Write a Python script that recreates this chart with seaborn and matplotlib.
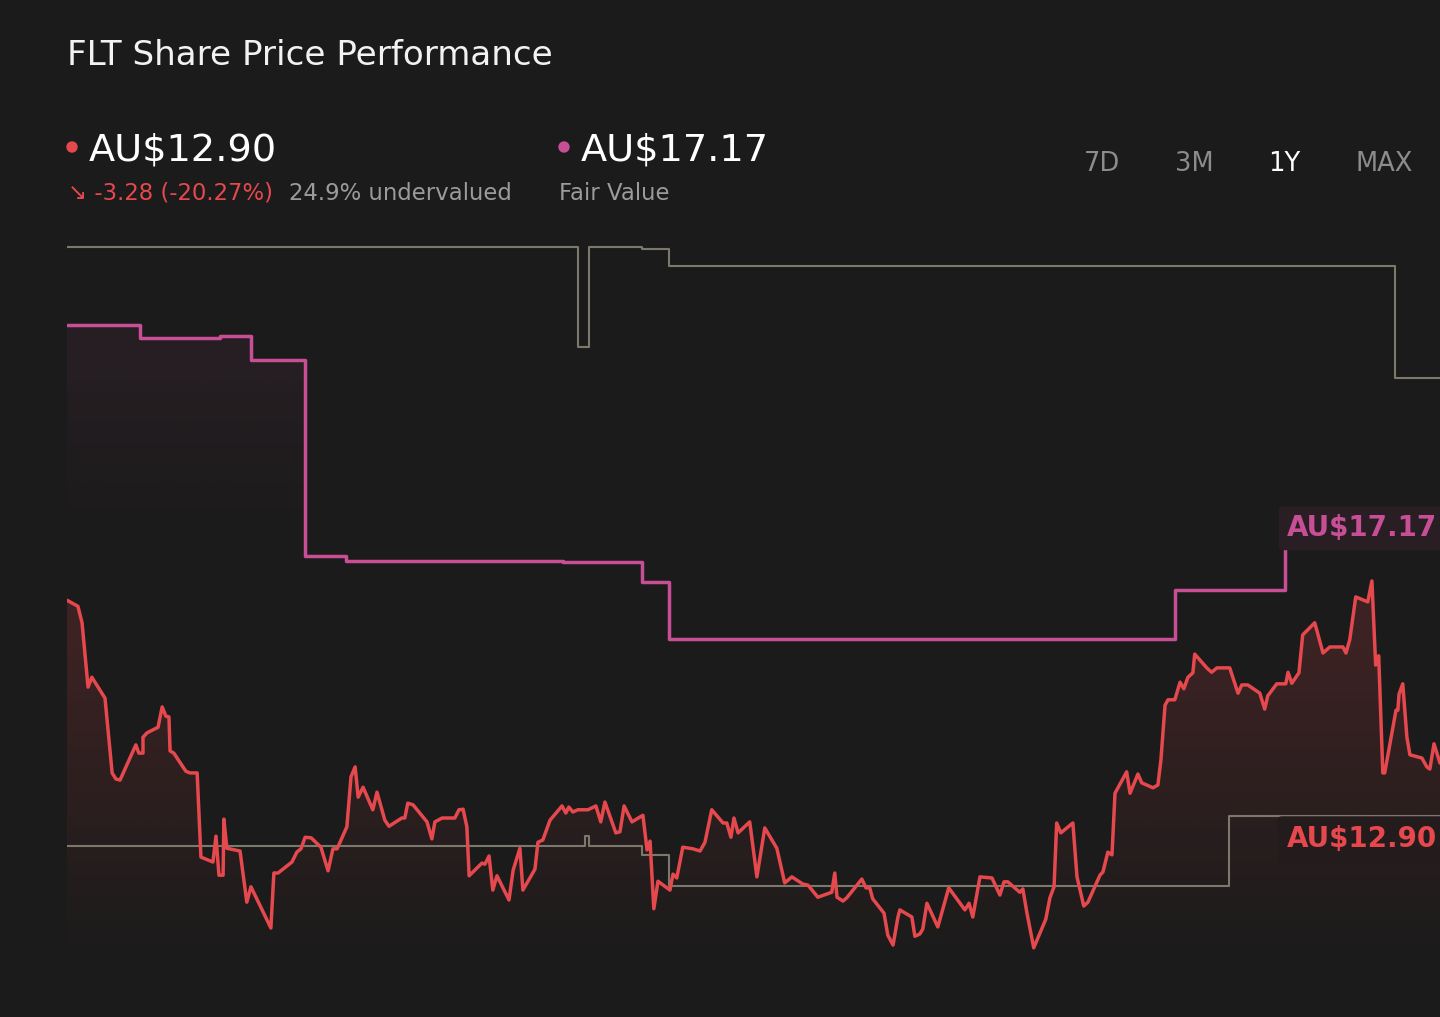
import numpy as np
import pandas as pd
import matplotlib
matplotlib.use("Agg")
import matplotlib.pyplot as plt
import seaborn as sns
from matplotlib.colors import LinearSegmentedColormap, to_rgba
from matplotlib.patches import Ellipse

# ---------------- data (days since start of 1Y window, AU$) ----------------
price_day = [0.0, 2.9, 4.0, 5.6, 6.6, 10.1, 12.0, 13.0, 14.1, 18.3, 19.1, 20.2, 20.2, 21.3, 24.2,
             25.3, 26.3, 27.1, 27.4, 28.4, 31.6, 32.7, 34.6, 35.6, 38.8, 39.6, 40.4, 41.5, 41.7,
             42.5, 46.0, 47.8, 48.9, 54.2, 55.0, 56.1, 59.8, 61.1, 62.2, 63.3, 64.9, 67.5, 69.4,
             70.7, 71.8, 74.4, 75.5, 76.6, 77.4, 78.7, 81.3, 82.4, 84.5, 85.6, 89.0, 89.8, 90.6,
             92.0, 95.7, 97.0, 97.8, 99.7, 103.1, 104.2, 105.3, 106.3, 106.9, 110.3, 111.1, 112.2,
             113.2, 114.3, 117.5, 118.6, 120.4, 121.2, 124.4, 125.2, 126.5, 128.4, 131.6, 132.6,
             133.4, 134.5, 135.8, 138.5, 140.6, 141.9, 143.0, 145.9, 147.0, 148.1, 150.2, 153.1,
             154.2, 155.0, 156.0, 157.1, 160.3, 161.1, 162.1, 163.7, 166.4, 168.3, 169.6, 171.4,
             174.4, 175.4, 176.5, 177.3, 178.4, 181.5, 183.4, 185.5, 188.7, 190.8, 192.7, 195.6,
             197.0, 199.6, 203.3, 204.1, 204.7, 206.3, 207.3, 211.3, 212.4, 213.4, 214.2, 217.2,
             218.2, 219.6, 220.9, 221.4, 224.6, 225.4, 226.7, 227.5, 228.6, 231.5, 234.4, 238.7,
             239.8, 240.8, 242.7, 245.9, 248.0, 249.1, 250.1, 253.3, 254.1, 255.2, 257.0, 260.2,
             261.3, 262.4, 263.1, 264.2, 267.4, 268.5, 270.3, 271.4, 274.6, 275.4, 276.7, 277.8,
             278.6, 281.7, 282.6, 284.7, 285.7, 288.7, 290.0, 290.8, 291.9, 292.7, 294.5, 295.9,
             296.9, 298.0, 299.3, 299.8, 303.0, 304.3, 305.7, 309.1, 311.3, 312.3, 313.9, 317.1,
             318.4, 319.2, 321.6, 324.0, 324.6, 325.6, 327.5, 328.5, 331.7, 333.9, 335.7, 339.2,
             340.0, 341.0, 342.6, 345.8, 346.9, 347.9, 348.7, 349.8, 350.3, 353.3, 353.8, 354.1,
             355.1, 356.2, 357.0, 360.2, 361.5, 362.3, 363.4, 365.0]
price_val = [15.86, 15.75, 15.45, 14.28, 14.46, 14.08, 12.72, 12.61, 12.59, 13.23, 13.08, 13.08, 13.37,
             13.45, 13.55, 13.92, 13.75, 13.74, 13.12, 13.08, 12.75, 12.72, 12.72, 11.19, 11.10, 11.57,
             10.86, 10.86, 11.88, 11.35, 11.30, 10.37, 10.65, 9.90, 10.90, 10.90, 11.10, 11.28, 11.34,
             11.55, 11.54, 11.37, 10.94, 11.34, 11.34, 11.74, 12.65, 12.83, 12.28, 12.46, 12.05, 12.37,
             11.86, 11.75, 11.90, 11.90, 12.17, 12.14, 11.83, 11.52, 11.83, 11.90, 11.90, 12.05, 12.06,
             11.74, 10.85, 11.08, 11.06, 11.21, 10.59, 10.85, 10.41, 10.95, 11.35, 10.59, 10.97, 11.46,
             11.50, 11.86, 12.12, 11.99, 12.10, 12.01, 12.05, 12.05, 12.12, 11.83, 12.19, 11.63, 11.65,
             12.12, 11.83, 11.95, 11.32, 11.48, 10.25, 10.75, 10.59, 10.88, 10.81, 11.37, 11.34, 11.30,
             11.46, 12.05, 11.81, 11.81, 11.55, 11.90, 11.63, 11.83, 10.83, 11.72, 11.35, 10.72, 10.83,
             10.70, 10.68, 10.46, 10.55, 10.90, 10.46, 10.39, 10.45, 10.79, 10.63, 10.63, 10.43, 10.17,
             9.77, 9.59, 10.10, 10.23, 10.10, 9.75, 9.79, 9.88, 10.35, 9.92, 10.63, 10.23, 10.35, 10.10,
             10.83, 10.81, 10.50, 10.74, 10.74, 10.55, 10.61, 10.17, 9.54, 10.06, 10.45, 10.65, 11.81,
             11.63, 11.81, 10.83, 10.30, 10.37, 10.86, 10.92, 11.28, 11.23, 12.35, 12.74, 12.35, 12.70,
             12.54, 12.45, 12.50, 12.95, 13.95, 14.05, 14.05, 14.37, 14.25, 14.46, 14.54, 14.88, 14.63,
             14.55, 14.63, 14.63, 14.17, 14.32, 14.32, 14.17, 13.88, 14.12, 14.34, 14.34, 14.55, 14.35,
             14.54, 15.23, 15.45, 14.90, 15.01, 15.01, 14.90, 15.14, 15.92, 15.83, 16.21, 14.68, 14.85,
             12.72, 12.72, 13.86, 13.86, 14.15, 14.34, 13.37, 13.05, 12.99, 12.83, 12.79, 13.25, 12.90]

fair_day = [0.0, 19.4, 40.7, 48.9, 63.3, 74.2, 131.8, 152.8, 160.0, 294.5, 323.8]
fair_val = [20.86, 20.63, 20.66, 20.23, 16.66, 16.57, 16.55, 16.19, 15.15, 16.05, 17.17]

high_day = [0.0, 135.8, 138.8, 152.8, 160.0, 353.0]
high_val = [22.28, 20.46, 22.28, 22.25, 21.94, 19.90]

low_day = [0.0, 137.7, 138.8, 152.8, 160.0, 308.9]
low_val = [11.39, 11.57, 11.39, 11.23, 10.66, 11.94]

last_price = 12.90
fair_value = 17.17
change_txt = "↘ -3.28 (-20.27%)"
underval_txt = "24.9% undervalued"
ranges = ["7D", "3M", "1Y", "MAX"]
active_range = "1Y"

# ---------------- style ----------------
BG = "#1b1b1b"
RED = "#e5484d"
PINK = "#c84f96"
GREY = "#7d786c"
W, H = 1440, 1017
END = 365.0

sns.set_theme(style="dark")
plt.rcParams['font.family'] = ['DejaVu Sans']
plt.rcParams['savefig.facecolor'] = BG

fig = plt.figure(figsize=(W / 100, H / 100), dpi=100, facecolor=BG)
ax = fig.add_axes([67 / W, 37 / H, 1373 / W, 760 / H])
ax.set_facecolor(BG)
YMIN, YMAX = 8.955, 22.773


def extend(days, vals):
    return pd.DataFrame({"day": list(days) + [END], "val": list(vals) + [vals[-1]]})


fair_df = extend(fair_day, fair_val)
high_df = extend(high_day, high_val)
low_df = extend(low_day, low_val)
price_df = pd.DataFrame({"day": price_day, "val": price_val})


def gradient_fill(poly, color, lo, hi, amax, z):
    yy = np.linspace(YMIN, YMAX, 600)
    a = np.clip((yy - lo) / (hi - lo), 0, 1).reshape(-1, 1)
    cm = LinearSegmentedColormap.from_list("g", [to_rgba(color, 0.0), to_rgba(color, amax)])
    img = ax.imshow(a, extent=[0, END, YMIN, YMAX], origin="lower", aspect="auto", cmap=cm,
                    vmin=0, vmax=1, zorder=z, interpolation="bilinear")
    img.set_clip_path(poly.get_paths()[0], transform=ax.transData)


# pink gradient fill under fair value
poly_f = ax.fill_between(fair_df["day"], fair_df["val"], YMIN, step="post", color="none", lw=0)
gradient_fill(poly_f, PINK, 17.0, 20.9, 0.08, 1)

# red gradient fill under price
poly_p = ax.fill_between(price_df["day"], price_df["val"], YMIN, color="none", lw=0)
gradient_fill(poly_p, RED, 9.2, 15.2, 0.17, 2)

# lines
sns.lineplot(data=high_df, x="day", y="val", ax=ax, color=GREY, lw=1.5, drawstyle="steps-post",
             estimator=None, sort=False, zorder=3)
sns.lineplot(data=low_df, x="day", y="val", ax=ax, color=GREY, lw=1.5, drawstyle="steps-post",
             estimator=None, sort=False, zorder=3)
sns.lineplot(data=fair_df, x="day", y="val", ax=ax, color=PINK, lw=2.5, drawstyle="steps-post",
             estimator=None, sort=False, zorder=4)
sns.lineplot(data=price_df, x="day", y="val", ax=ax, color=RED, lw=2.5,
             estimator=None, sort=False, zorder=5)
ax.set_xlim(0, END)
ax.set_ylim(YMIN, YMAX)
ax.axis("off")

# right-hand value labels
lab_x = 324.2
ax.text(lab_x, fair_value - 0.15, f"AU${fair_value:.2f}", color=PINK, fontsize=20, fontweight="bold",
        va="baseline", ha="left", zorder=6, clip_on=False,
        bbox=dict(boxstyle="round,pad=0.28,rounding_size=0.15", fc="#2a1e25", ec="none"))
ax.text(lab_x, last_price - 1.53, f"AU${last_price:.2f}", color=RED, fontsize=20, fontweight="bold",
        va="baseline", ha="left", zorder=6, clip_on=False,
        bbox=dict(boxstyle="round,pad=0.32,rounding_size=0.15", fc="#241b1c", ec="none"))


# ---------------- header ----------------
def ftext(x, y, s, **kw):
    return fig.text(x / W, 1 - y / H, s, va="baseline", **kw)


ftext(67, 65, "FLT Share Price Performance", color="#f2f2f2", fontsize=24.6)

fig.add_artist(Ellipse((72 / W, 1 - 147 / H), 10 / W, 10 / H, transform=fig.transFigure, color=RED))
ftext(89, 160, f"AU${last_price:.2f}", color="white", fontsize=27.5)
fig.add_artist(Ellipse((564 / W, 1 - 147 / H), 10 / W, 10 / H, transform=fig.transFigure, color=PINK))
ftext(581, 160, f"AU${fair_value:.2f}", color="white", fontsize=27.5)

ftext(68, 200, change_txt, color=RED, fontsize=16.4)
ftext(289, 200, underval_txt, color="#9b9b9b", fontsize=16.4)
ftext(559, 200, "Fair Value", color="#9b9b9b", fontsize=16.4)

for label, cx in zip(ranges, [1102, 1194, 1284, 1384]):
    ftext(cx, 171, label, color="white" if label == active_range else "#8c8c8c", fontsize=18.5, ha="center")

fig.savefig("out.png", dpi=100, facecolor=BG)
